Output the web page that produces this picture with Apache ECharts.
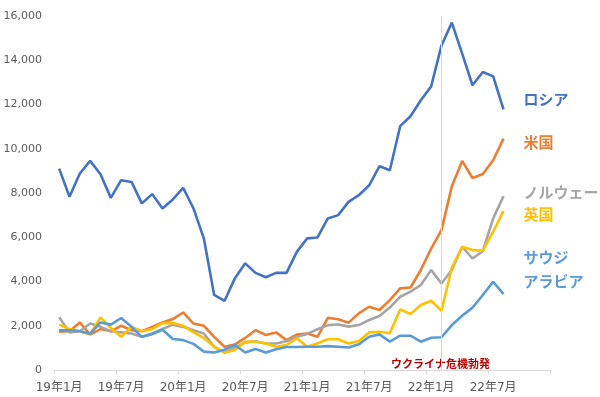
<!DOCTYPE html>
<html>
<head>
<meta charset="utf-8">
<script src="https://cdn.jsdelivr.net/npm/echarts@6/dist/echarts.min.js"></script>
<style>
  html, body { margin: 0; padding: 0; background: #fff; }
  #main { width: 600px; height: 397px; }
</style>
</head>
<body>
<div id="main"></div>
<script>
// 月ラベル 19年1月〜22年12月 (軸は22年末まで、データは22年8月まで)
var years = [19, 20, 21, 22]
var months = []
years.forEach(function (y) {
  for (var m = 1; m <= 12; m++) months.push(y + '年' + m + '月')
})

var russia = [9100, 7830, 8880, 9450, 8850, 7780, 8580, 8500, 7530, 7950, 7300, 7710,
  8230, 7300, 5950, 3390, 3120, 4140, 4820, 4390, 4190, 4390, 4390, 5340,
  5950, 5990, 6850, 7000, 7600, 7900, 8350, 9210, 9030, 11020, 11470, 12190,
  12820, 14670, 15700, 14300, 12870, 13470, 13270, 11780]
var usa = [1730, 1750, 2150, 1600, 1850, 1750, 2000, 1800, 1750, 1950, 2150, 2300,
  2600, 2100, 2000, 1500, 1050, 1150, 1450, 1800, 1580, 1700, 1350, 1600,
  1650, 1500, 2360, 2290, 2140, 2560, 2860, 2710, 3160, 3690, 3730, 4520,
  5490, 6320, 8300, 9450, 8680, 8860, 9480, 10460]
var norway = [2380, 1700, 1750, 2100, 1950, 1750, 1700, 1650, 1500, 1650, 1850, 2050,
  1950, 1800, 1650, 1050, 800, 1000, 1250, 1300, 1200, 1200, 1300, 1500,
  1630, 1840, 2030, 2060, 1960, 2030, 2260, 2440, 2820, 3310, 3540, 3840,
  4520, 3910, 4520, 5570, 5040, 5370, 6850, 7860]
var uk = [2050, 1850, 1750, 1620, 2380, 1900, 1500, 1950, 1750, 1850, 2120, 2120,
  2000, 1700, 1450, 1050, 780, 900, 1280, 1280, 1200, 1050, 1130, 1430,
  1050, 1200, 1390, 1390, 1200, 1310, 1700, 1730, 1660, 2740, 2530, 2940,
  3130, 2680, 4620, 5570, 5420, 5390, 6250, 7190]
var saudi = [1790, 1800, 1750, 1640, 2150, 2050, 2350, 1950, 1500, 1620, 1820, 1400,
  1350, 1180, 830, 790, 920, 1130, 790, 950, 790, 940, 1040, 1040,
  1050, 1050, 1080, 1050, 1020, 1160, 1500, 1610, 1280, 1550, 1550, 1280,
  1460, 1480, 2030, 2450, 2820, 3390, 3990, 3430]

var crisisMonth = '22年2月'
var crisisText = 'ウクライナ危機勃発'

var font = '"DejaVu Sans", "Noto Sans CJK JP", sans-serif'

function lineSeries(name, data, color, dy, labelText) {
  return {
    name: name,
    type: 'line',
    data: data,
    showSymbol: false,
    symbol: 'none',
    lineStyle: { color: color, width: 2.6 },
    itemStyle: { color: color },
    endLabel: {
      show: true,
      formatter: labelText || name,
      color: color,
      fontSize: 15,
      fontWeight: 'bold',
      fontFamily: '"Noto Sans CJK JP", sans-serif',
      lineHeight: 24,
      align: 'left',
      distance: 20,
      offset: [0, dy]
    }
  }
}

var chart = echarts.init(document.getElementById('main'))
var series = [
  lineSeries('ロシア', russia, '#4472C4', -10),
  lineSeries('米国', usa, '#ED7D31', 4),
  lineSeries('ノルウェー', norway, '#A5A5A5', -4),
  lineSeries('英国', uk, '#FFC000', 3),
  lineSeries('サウジアラビア', saudi, '#5B9BD5', -25, 'サウジ\nアラビア')
]
// ウクライナ危機の縦線
series[0].markLine = {
  silent: true,
  symbol: 'none',
  label: { show: false },
  lineStyle: { color: '#D9D9D9', width: 1, type: 'solid' },
  data: [{ xAxis: crisisMonth }]
}

chart.setOption({
  animation: false,
  backgroundColor: '#fff',
  grid: { left: 54, right: 50, top: 16, bottom: 27 },
  xAxis: {
    type: 'category',
    data: months,
    boundaryGap: true,
    axisLine: { lineStyle: { color: '#D9D9D9', width: 1 } },
    axisTick: { show: true, interval: 5, length: 4, lineStyle: { color: '#D9D9D9' } },
    axisLabel: {
      interval: 5,
      color: '#595959',
      fontSize: 12,
      fontFamily: font,
      margin: 12
    },
    splitLine: { show: false }
  },
  yAxis: {
    type: 'value',
    min: 0,
    max: 16000,
    interval: 2000,
    axisLine: { show: false },
    axisTick: { show: false },
    splitLine: { show: false },
    axisLabel: {
      color: '#595959',
      fontSize: 11,
      fontFamily: font,
      margin: 12,
      formatter: function (v) { return v.toLocaleString('en-US') }
    }
  },
  series: series
})

// 注記テキストは縦線の根元に置く
var p = chart.convertToPixel({ xAxisIndex: 0, yAxisIndex: 0 }, [crisisMonth, 0])
chart.setOption({
  graphic: [{
    type: 'text',
    x: p[0] - 1,
    y: p[1] - 6,
    style: {
      text: crisisText,
      fill: '#C00000',
      font: 'bold 11px "Noto Sans CJK JP", sans-serif',
      align: 'center',
      verticalAlign: 'middle',
      textAlign: 'center',
      textVerticalAlign: 'middle',
      backgroundColor: '#fff',
      padding: [1, 2]
    }
  }]
})
</script>
</body>
</html>
